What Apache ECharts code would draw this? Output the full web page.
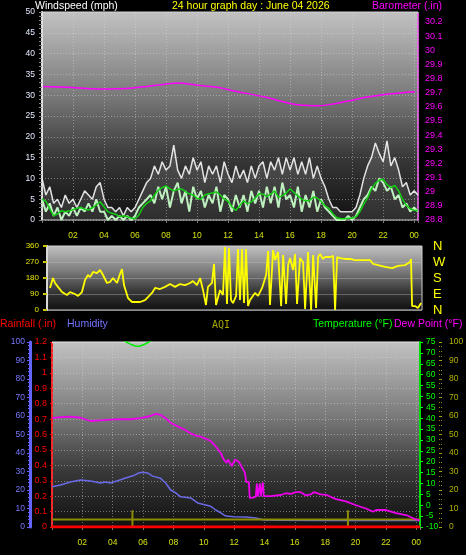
<!DOCTYPE html>
<html><head><meta charset="utf-8">
<script src="https://cdn.jsdelivr.net/npm/echarts@6/dist/echarts.min.js"></script>
<style>html,body{margin:0;padding:0;background:#000;}#c{width:466px;height:555px;}</style>
</head><body><div id="c"></div>
<script>
// ---------- DATA ----------
const windStepHours = 0.25;
const gust = [10,6,8,4, 5,3,6,4, 5,3,5,7, 6,5,8,9, 5,3,3,2, 3,1,3,2, 3,5,7,9, 10,13,11,14, 12,13,18,12, 10,13,11,15, 12,14,9,13, 11,13,9,14, 11,9,13,10, 12,9,13,10, 13,14,10,14, 12,15,11,15, 12,15,11,14, 11,15,10,13, 10,8,5,3, 3,2,2,2, 2,3,6,10, 13,15,18.5,16, 14,19,13,15, 12,8,9,6, 7,6];
const speed = [5,2,4,1, 3,0,2,1, 3,1,3,2, 4,2,5,2, 2,0,1,0, 1,0,1,0, 1,3,4,5, 6,4,8,5, 8,3,7,9, 4,7,2,8, 5,7,3,6, 4,8,2,6, 5,2,6,3, 6,2,7,4, 7,3,8,4, 8,3,9,5, 6,3,8,2, 6,3,7,2, 5,3,2,1, 0,0,0,1, 0,1,3,5, 6,8,7,10, 9,7,8,5, 6,3,4,2, 3,2];
const windAvg = [5.0,4.5,2.7,1.0, 1.5,2.2,2.0,2.2, 2.5,2.8,3.0,2.6, 2.4,3.0,3.6,4.4, 3.2,2.0,1.6,1.4, 0.8,1.0,0.8,0.5, 0.3,1.2,3.0,4.0, 4.6,6.0,7.2,7.8, 8.2,7.5,7.0,7.3, 7.5,6.8,6.3,6.0, 5.2,5.0,6.0,6.3, 6.5,6.8,6.0,5.0, 4.5,3.2,2.3,3.4, 4.6,4.0,4.3,5.3, 6.3,6.2,5.6,6.2, 7.0,5.5,5.8,6.5, 7.5,6.6,5.8,5.0, 4.6,4.7,5.5,5.3, 4.5,3.4,2.8,1.5, 0.6,0.3,0.3,0.4, 0.5,0.8,2.0,3.8, 5.3,7.5,8.8,9.6, 9.8,8.5,7.8,8.3, 7.0,5.0,3.5,2.7, 2.3,2.3];

const baroTimes = [0.06,1.61,3.74,5.87,8.06,8.9,10.19,11.29,12.32,14.45,15.74,16.65,17.94,18.77,19.87,20.9,22.0,23.1,24.06];
const baroValues = [29.743,29.738,29.726,29.733,29.762,29.769,29.750,29.738,29.714,29.667,29.631,29.613,29.608,29.620,29.643,29.667,29.686,29.698,29.707];

const dirTimes = [0.19,0.39,0.52,0.71,0.97,1.29,1.49,1.81,2.01,2.26,2.46,2.65,2.78,2.98,3.23,3.43,3.62,3.88,4.08,4.27,4.53,4.72,4.85,4.98,5.24,5.5,6.02,6.34,6.53,6.79,6.99,7.31,7.63,7.96,8.28,8.6,8.93,9.25,9.44,9.7,9.9,10.09,10.28,10.41,10.67,10.8,10.93,11.19,11.38,11.51,11.64,11.77,11.9,12.03,12.23,12.35,12.48,12.61,12.74,12.87,13.0,13.13,13.45,13.65,13.91,14.17,14.3,14.42,14.62,14.75,14.94,15.14,15.27,15.46,15.59,15.72,15.91,16.04,16.17,16.36,16.56,16.69,16.88,17.08,17.21,17.4,17.53,17.66,17.85,17.98,18.31,18.5,18.63,18.76,18.95,19.28,19.6,19.92,20.38,20.89,21.09,21.41,21.86,22.32,22.7,23.16,23.48,23.54,23.61,23.8,23.99,24.19];
const dirValues = [124,180,152,130,101,84,101,90,79,101,169,197,185,214,208,225,197,152,158,180,152,202,230,140,67,45,45,56,73,96,124,118,130,146,130,146,140,152,163,140,180,112,28,130,152,259,28,112,84,354,34,348,56,39,79,343,56,343,39,343,22,56,96,79,124,197,332,28,337,281,326,22,309,34,253,292,225,315,34,292,270,6,326,0,309,11,298,315,287,298,298,304,0,298,292,287,287,281,281,281,259,253,242,236,248,253,270,287,22,22,11,39];
const compass = {0:'N',90:'E',180:'S',270:'W',360:'N'};

const rainTimes = [0, 24.25];
const rainValues = [0, 0];

const humTimes = [0,0.56,1.22,1.88,2.54,3.2,3.53,3.86,4.52,4.85,5.38,5.71,5.97,6.3,6.63,7.16,7.49,7.82,8.15,8.48,9.14,9.6,10.13,10.46,10.79,11.12,11.45,11.98,12.77,13.43,13.96,15,18,21,24.25];
const humValues = [21.8,22.7,24.3,25.4,24.9,23.8,24.3,23.8,25.5,26.5,27.8,29.2,29.6,29.2,27.5,26.3,23.8,20,18.4,16.3,15.7,13,11.9,11.2,9.2,7.6,5.9,5.6,5.4,4.9,3.8,3.6,3.5,3.5,3.5];

const aqiTimes = [0,5.3,5.3,5.3,5.3,19.5,19.5,19.5,19.5,24.25];
const aqiValues = [4,4,9,0,4,4,9,0,4,4];

const tempTimes = [0,1,2,3,4,4.7,5.0,5.3,5.6,5.9,6.2,6.6,7,8,10,12,14,16,18,20,22,24.25];
const tempValues = [84,82,80,78.5,77,75.8,74.6,73.6,73.0,73.4,74.3,75.8,77,82,88,93,96,97,95,91,87,84];

const dewTimes = [0,0.56,1.22,1.88,2.54,3.2,3.86,4.52,5.18,5.84,6.5,6.83,7.16,7.49,7.82,8.35,8.81,9.14,9.47,9.8,10.13,10.46,10.79,11.12,11.32,11.52,11.6,11.72,11.85,12.05,12.31,12.51,12.71,12.8,12.97,13.03,13.23,13.43,13.5,13.56,13.7,13.76,13.89,13.96,14.42,15.08,15.41,15.74,16.07,16.4,16.73,17.06,17.26,17.72,18.05,18.71,19.37,20.03,20.69,21.16,21.35,22.01,22.67,23.33,23.8,24.2];
const dewValues = [40,40.5,40.7,40.2,38.7,39,39.3,39.6,39.5,40,41,42,41.5,40,37.8,36,34.5,33,32,31.5,30.5,29.5,27,24,21,19.5,21,19.5,18,21,20,17.5,15,10.7,10.7,3.3,3.5,4,10,4,10,4,10.5,4.2,4.2,4.7,5.5,5.2,6,6,4.5,5,6,5,4.8,2.8,1.8,0,-1.5,-3,-2.2,-2.2,-3.6,-4.5,-6,-7];

const hourLabels = ['00','02','04','06','08','10','12','14','16','18','20','22'];

// ---------- CHART ----------
const pairs = (t, v) => t.map((x, i) => [x, v[i]]);
const stepPairs = v => v.map((y, i) => [i * windStepHours, y]);
const bg = {type:'linear',x:0,y:0,x2:0,y2:1,colorStops:[{offset:0,color:'#c2c2c2'},{offset:0.4,color:'#7a7a7a'},{offset:0.7,color:'#383838'},{offset:1,color:'#101010'}]};
const gridLine = {show:true, lineStyle:{color:'rgba(220,220,220,0.45)', type:[1,2], width:1}};
const xLab = v => (Math.abs(v % 2) < 1e-9 && v > 0) ? hourLabels[(v % 24) / 2] : '';
const FONT = 'Liberation Sans';
const baseX = (gi, showLabel) => ({
  type:'value', gridIndex:gi, min:0, max:24.25, interval:2,
  axisLine:{show:false}, axisTick:{show:showLabel, length:3, lineStyle:{color:'#777'}},
  splitLine: gi===1 ? {show:false} : gridLine,
  axisLabel:{show:showLabel, color:'#d4e010', fontSize:8.5, fontFamily:FONT, margin:11, formatter:xLab}
});

const chart = echarts.init(document.getElementById('c'));
chart.setOption({
  backgroundColor:'#000',
  animation:false,
  textStyle:{fontFamily:FONT},
  grid:[
    {left:42, right:48, top:12, height:208, show:true, backgroundColor:bg, borderColor:'#cfcfcf', borderWidth:1, outerBoundsMode:'none', containLabel:false},
    {left:47, right:44, top:246, height:64, show:true, backgroundColor:bg, borderColor:'#cfcfcf', borderWidth:1, outerBoundsMode:'none', containLabel:false},
    {left:52, right:46, top:342, height:185, show:true, backgroundColor:bg, borderColor:'#e8e8e8', borderWidth:1, outerBoundsMode:'none', containLabel:false}
  ],
  xAxis:[baseX(0,true), baseX(1,false), baseX(2,true)],
  yAxis:[
    {type:'value', gridIndex:0, min:0, max:50, interval:5, position:'left',
     axisLine:{show:true, lineStyle:{color:'#e0e0e0', width:2}},
     axisTick:{show:true, length:3, lineStyle:{color:'#888'}},
     minorTick:{show:true, splitNumber:5, length:3, lineStyle:{color:'#888'}},
     splitLine:gridLine,
     axisLabel:{color:'#e4eaff', fontSize:8.5, margin:7}},
    {type:'value', gridIndex:0, min:28.8, max:30.27, interval:0.1, position:'right',
     axisLine:{show:true, lineStyle:{color:'#ff40ff', width:1.5, type:[2,2]}},
     axisTick:{show:false},
     splitLine:{show:false},
     axisLabel:{color:'#ff00ff', fontSize:9, margin:7,
       formatter:v => { const r = Math.round(v*10)/10; if (Math.abs(r - v) > 1e-6) return ''; return String(r); }}},
    {type:'value', gridIndex:1, min:0, max:360, interval:90, position:'left',
     axisLine:{show:true, lineStyle:{color:'#d8d8d8', width:2}},
     axisTick:{show:true, length:4, lineStyle:{color:'#c8c800', width:2}},
     splitLine:{show:true, lineStyle:{color:'rgba(200,200,200,0.35)', width:1}},
     axisLabel:{color:'#e6e600', fontSize:8, margin:8}},
    {type:'value', gridIndex:1, min:0, max:360, interval:90, position:'right',
     axisLine:{show:false}, axisTick:{show:false}, splitLine:{show:false},
     axisLabel:{color:'#ffff00', fontSize:13, margin:11, formatter:v => compass[v] || ''}},
    {type:'value', gridIndex:2, min:0, max:1.2, interval:0.1, position:'left', offset:2,
     axisLine:{show:true, lineStyle:{color:'#ff2020', width:2, type:[3,2]}},
     axisTick:{show:true, length:2, lineStyle:{color:'#ff0000'}},
     splitLine:gridLine,
     axisLabel:{color:'#ff0000', fontSize:9, margin:3}},
    {type:'value', gridIndex:2, min:0, max:100, interval:10, position:'left', offset:22,
     axisLine:{show:true, lineStyle:{color:'#6464ff', width:3}},
     axisTick:{show:true, length:3, lineStyle:{color:'#6464ff'}},
     minorTick:{show:true, splitNumber:5, length:2, lineStyle:{color:'#6464ff'}},
     splitLine:{show:false},
     axisLabel:{color:'#7878ff', fontSize:8.5, margin:5}},
    {type:'value', gridIndex:2, min:-10, max:75, interval:5, position:'right',
     axisLine:{show:true, lineStyle:{color:'#00e000', width:2}},
     axisTick:{show:true, length:3, lineStyle:{color:'#00ff00'}},
     splitLine:{show:false},
     axisLabel:{color:'#00ff00', fontSize:8.5, margin:6}},
    {type:'value', gridIndex:2, min:0, max:100, interval:10, position:'right', offset:22,
     axisLine:{show:false},
     axisTick:{show:true, length:3, inside:true, lineStyle:{color:'#a0a000'}},
     minorTick:{show:true, splitNumber:4, length:3, lineStyle:{color:'#909000', type:[1,1]}},
     splitLine:{show:false},
     axisLabel:{color:'#b0b000', fontSize:8.5, margin:7}}
  ],
  graphic:[
    {type:'text', left:35, top:1, style:{text:'Windspeed (mph)', fill:'#ffffff', font:'10.5px "Liberation Sans"'}},
    {type:'text', left:172, top:1, style:{text:'24 hour graph day : June 04 2026', fill:'#ffff00', font:'10.5px "Liberation Sans"'}},
    {type:'text', left:372, top:1, style:{text:'Barometer (.in)', fill:'#ff00ff', font:'10.5px "Liberation Sans"'}},
    {type:'text', left:0, top:319, style:{text:'Rainfall (.in)', fill:'#ff0000', font:'10.5px "Liberation Sans"'}},
    {type:'text', left:67, top:319, style:{text:'Humidity', fill:'#7272ff', font:'10.5px "Liberation Sans"'}},
    {type:'text', left:212, top:320, style:{text:'AQI', fill:'#a8a800', font:'10px "DejaVu Sans Mono"'}},
    {type:'text', left:313, top:319, style:{text:'Temperature (°F)', fill:'#00ff00', font:'10.5px "Liberation Sans"'}},
    {type:'text', left:394, top:319, style:{text:'Dew Point (°F)', fill:'#ff00ff', font:'10.5px "Liberation Sans"'}}
  ],
  series:[
    {type:'line', name:'Gust', xAxisIndex:0, yAxisIndex:0, data:stepPairs(gust), showSymbol:false,
     lineStyle:{color:'rgba(245,245,245,0.9)', width:1.5}, areaStyle:{color:'rgba(210,210,210,0.22)'}, z:2},
    {type:'line', name:'Wind', xAxisIndex:0, yAxisIndex:0, data:stepPairs(speed), showSymbol:false,
     lineStyle:{color:'#bff0bf', width:2}, z:3},
    {type:'line', name:'Avg', xAxisIndex:0, yAxisIndex:0, data:stepPairs(windAvg), showSymbol:false,
     lineStyle:{color:'#10d010', width:1.5}, z:4},
    {type:'line', name:'Barometer', xAxisIndex:0, yAxisIndex:1, data:pairs(baroTimes, baroValues), showSymbol:false, smooth:0.3,
     lineStyle:{color:'#ff00ff', width:1.5}, z:5},
    {type:'line', name:'Direction', xAxisIndex:1, yAxisIndex:2, data:pairs(dirTimes, dirValues), showSymbol:false,
     lineStyle:{color:'#ffff00', width:1.8}},
    {type:'line', name:'AQI', xAxisIndex:2, yAxisIndex:7, data:pairs(aqiTimes, aqiValues), showSymbol:false,
     lineStyle:{color:'#8c8c00', width:2}, z:3},
    {type:'line', name:'Humidity', xAxisIndex:2, yAxisIndex:5, data:pairs(humTimes, humValues), showSymbol:false,
     lineStyle:{color:'#6a6ae8', width:1.5}, z:2},
    {type:'line', name:'Rainfall', xAxisIndex:2, yAxisIndex:4, data:pairs(rainTimes, rainValues), showSymbol:false,
     lineStyle:{color:'#ff0000', width:3}, z:4},
    {type:'line', name:'Temperature', xAxisIndex:2, yAxisIndex:6, data:pairs(tempTimes, tempValues), showSymbol:false, smooth:0.3,
     lineStyle:{color:'#00ee00', width:1.5}, z:5},
    {type:'line', name:'Dew Point', xAxisIndex:2, yAxisIndex:6, data:pairs(dewTimes, dewValues), showSymbol:false,
     lineStyle:{color:'#ee00ee', width:1.8}, z:5}
  ]
});
</script></body></html>
